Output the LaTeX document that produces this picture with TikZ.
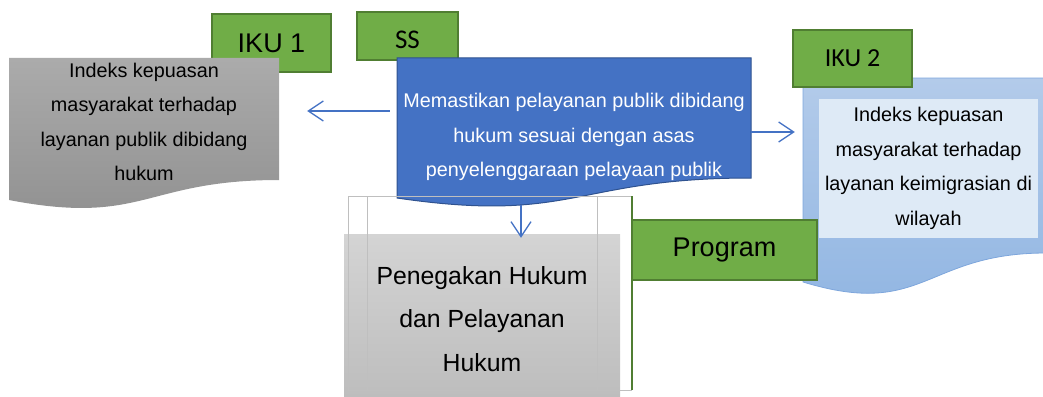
\documentclass[tikz,border=0pt]{standalone}
\usepackage{fontspec}
\setmainfont{Liberation Sans}
\newfontfamily\calib{Carlito}
\usetikzlibrary{arrows.meta}
\definecolor{grn}{HTML}{70AD47}
\definecolor{grnline}{HTML}{507E32}
\definecolor{blu}{HTML}{4472C4}
\definecolor{bluline}{HTML}{2F528F}
\definecolor{gryA}{HTML}{ABABAB}
\definecolor{gryB}{HTML}{909090}
\definecolor{gryC}{HTML}{D4D4D4}
\definecolor{gryD}{HTML}{BCBCBC}
\definecolor{ltA}{HTML}{B3CBEA}
\definecolor{ltB}{HTML}{90B5E2}
\definecolor{ltC}{HTML}{DEEAF6}
\definecolor{ltline}{HTML}{7EA6DC}

\begin{document}
\begin{tikzpicture}
[x=1pt,y=-1pt,%
  every node/.style={inner sep=0pt,align=center},%
  lbl/.style={draw=grnline,fill=grn,line width=1.2pt,font=\fontsize{27}{30}\selectfont},%
  txt/.style={font=\fontsize{19.8}{34.5}\selectfont},%
  frm/.style={draw=gray!50,line width=0.8pt},%
  arr/.style={draw=blu,line width=1.3pt,-{Straight Barb[length=15pt,width=20pt,line width=1.3pt]}}]
\useasboundingbox (0,0) rectangle (1043,396);
% IKU 1
\node[lbl,minimum width=119pt,minimum height=58pt] (iku1) at (271.5,43) {IKU 1};
\shade[top color=gryA,bottom color=gryB] (9,58) -- (279,58) -- (279,180)
  .. controls (144,180) and (144,226) .. (9,200) -- cycle;
\node[txt,minimum width=270pt] (ikuAdoc) at (144,122)
  {Indeks kepuasan\\masyarakat terhadap\\layanan publik dibidang\\hukum};
% SS
\node[lbl,font=\calib\fontsize{27}{29}\selectfont,minimum width=101pt,minimum height=48pt,
  text height=26pt] (ss) at (407.5,36) {SS};
\filldraw[fill=blu,draw=bluline,line width=1pt] (397,58) -- (751,58) -- (751,178)
  .. controls (574,178) and (574,224) .. (397,198) -- cycle;
\node[txt,text=white,minimum width=354pt] (ssdoc) at (574,137)
  {Memastikan pelayanan publik dibidang\\hukum sesuai dengan asas\\penyelenggaraan pelayaan publik};
% IKU 2
\shadedraw[top color=ltA,bottom color=ltB,draw=ltline,line width=0.8pt] (803,78) -- (1046,78) -- (1046,253)
  .. controls (924.5,253) and (924.5,319) .. (803,282) -- cycle;
\node[lbl,font=\calib\fontsize{26}{28}\selectfont,minimum width=119pt,minimum height=57pt]
  (iku2) at (852.5,58.5) {IKU 2};
\node[txt,fill=ltC,minimum width=219pt,minimum height=139pt] (ikuBtext) at (928.5,168.5)
  {Indeks kepuasan\\masyarakat terhadap\\layanan keimigrasian di\\wilayah};
% Program
\node[top color=gryC,bottom color=gryD,font=\fontsize{24.8}{43.5}\selectfont,
  minimum width=276pt,minimum height=170pt] (penegak) at (482,319)
  {Penegakan Hukum\\dan Pelayanan\\Hukum};
\draw[frm] (632,196) -- (348,196) -- (348,390) -- (632,390)
  (367,196) -- (367,390) (597,196) -- (597,390);
\draw[draw=grnline,line width=1.3pt] (632,196) -- (632,390);
\node[lbl,minimum width=185pt,minimum height=60pt] (prog) at (724.5,250) {Program};
% arrows
\draw[arr,shorten <=7pt,shorten >=28pt] ([yshift=26pt]ssdoc.west) -- ([yshift=26pt]ssdoc.west -| ikuAdoc.east);
\draw[arr,shorten >=24pt] ([yshift=5pt]ssdoc.east) -- ([yshift=5pt]ssdoc.east -| ikuBtext.west);
\draw[arr,shorten >=-4pt] ([xshift=-53pt,yshift=-68pt]ssdoc.center)
  -- ([xshift=-53pt]ssdoc.center |- penegak.north);
\end{tikzpicture}
\end{document}
